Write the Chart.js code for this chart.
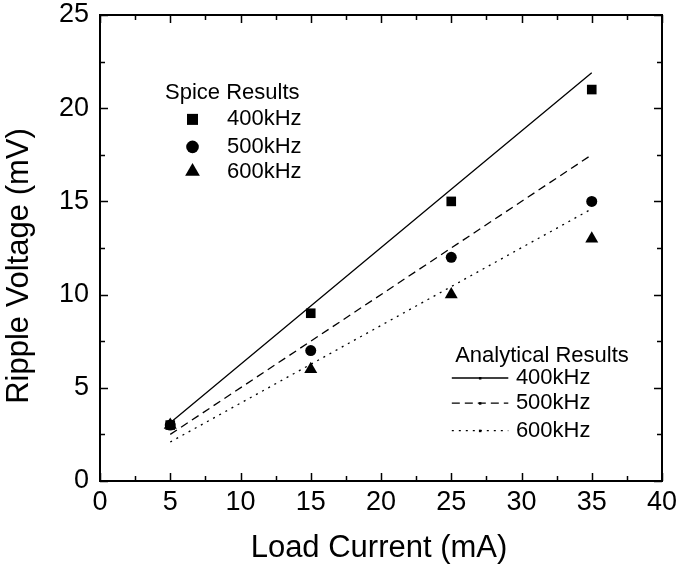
<!DOCTYPE html>
<html>
<head>
<meta charset="utf-8">
<script src="https://cdn.jsdelivr.net/npm/chart.js@4/dist/chart.umd.min.js"></script>
<style>
  body { margin: 0; background: #fff; }
  #wrap { width: 677px; height: 572px; }
</style>
</head>
<body>
<div id="wrap"><canvas id="c"></canvas></div>
<script>
// values
const loadCurrent = [5, 15, 25, 35];
const spice400 = [3, 9, 15, 21];
const spice500 = [3, 7, 12, 15];
const spice600 = [3, 6, 10, 13];
const analytic400 = [3.13, 9.39, 15.65, 21.9];
const analytic500 = [2.5, 7.5, 12.5, 17.5];
const analytic600 = [2.09, 6.26, 10.43, 14.6];
const freqLabels = ['400kHz', '500kHz', '600kHz'];
const xTicks = [0, 5, 10, 15, 20, 25, 30, 35, 40];
const yTicks = [0, 5, 10, 15, 20, 25];
const xTitle = 'Load Current (mA)';
const yTitle = 'Ripple Voltage (mV)';

const FONT = '"Liberation Sans", Arial, sans-serif';

function pts(ys) {
  return loadCurrent.map((x, i) => ({ x: x, y: ys[i] }));
}

function lineSet(label, ys, dash) {
  return {
    label: label, data: pts(ys), showLine: true, borderColor: '#000',
    borderWidth: 1.3, borderDash: dash, pointRadius: 0, fill: false, order: 2
  };
}

function markSet(label, ys, style, r) {
  return {
    label: label, data: pts(ys), showLine: false, pointStyle: style,
    pointRadius: r, pointHoverRadius: r, backgroundColor: '#000',
    borderColor: '#000', borderWidth: 0, order: 1
  };
}

function drawMark(ctx, style, x, y, r) {
  ctx.beginPath();
  if (style === 'rect') {
    const s = r * Math.SQRT1_2;
    ctx.rect(x - s, y - s, 2 * s, 2 * s);
  } else if (style === 'circle') {
    ctx.arc(x, y, r, 0, Math.PI * 2);
  } else {
    ctx.moveTo(x, y - r);
    ctx.lineTo(x + r * 0.866, y + r * 0.5);
    ctx.lineTo(x - r * 0.866, y + r * 0.5);
    ctx.closePath();
  }
  ctx.fill();
}

// frame with inward ticks on all four sides, plus the axis titles
const framePlugin = {
  id: 'frame',
  afterDatasetsDraw(chart) {
    const ctx = chart.ctx, a = chart.chartArea;
    const xs = chart.scales.x, ys = chart.scales.y;
    ctx.save();
    ctx.strokeStyle = '#000';
    ctx.lineWidth = 2;
    ctx.strokeRect(a.left, a.top, a.right - a.left, a.bottom - a.top);
    ctx.lineWidth = 1.5;
    ctx.beginPath();
    for (let v = 0; v <= 40; v += 2.5) {
      const len = v % 5 === 0 ? 8 : 5;
      const px = Math.round(xs.getPixelForValue(v)) + 0.5;
      ctx.moveTo(px, a.bottom); ctx.lineTo(px, a.bottom - len);
      ctx.moveTo(px, a.top); ctx.lineTo(px, a.top + len);
    }
    for (let v = 0; v <= 25; v += 2.5) {
      const len = v % 5 === 0 ? 8 : 5;
      const py = Math.round(ys.getPixelForValue(v)) + 0.5;
      ctx.moveTo(a.left, py); ctx.lineTo(a.left + len, py);
      ctx.moveTo(a.right, py); ctx.lineTo(a.right - len, py);
    }
    ctx.stroke();

    ctx.fillStyle = '#000';
    ctx.font = '31px ' + FONT;
    ctx.textAlign = 'center';
    ctx.textBaseline = 'alphabetic';
    ctx.fillText(xTitle, (a.left + a.right) / 2 - 2, a.bottom + 76);
    ctx.translate(28, (a.top + a.bottom) / 2 + 18);
    ctx.rotate(-Math.PI / 2);
    ctx.fillText(yTitle, 0, 0);
    ctx.restore();
  }
};

// the two legends written inside the plot
const notePlugin = {
  id: 'notes',
  afterDatasetsDraw(chart) {
    const ctx = chart.ctx, a = chart.chartArea;
    const W = a.right - a.left, H = a.bottom - a.top;
    const fx = f => a.left + f * W, fy = f => a.top + f * H;
    ctx.save();
    ctx.fillStyle = '#000';
    ctx.strokeStyle = '#000';
    ctx.textBaseline = 'middle';
    ctx.textAlign = 'left';

    ctx.font = '22px ' + FONT;
    ctx.fillText('Spice Results', fx(0.1157), fy(0.168));
    const styles = ['rect', 'circle', 'triangle'];
    const radii = [7.8, 6.3, 8.5];
    const rowsS = [0.224, 0.283, 0.336];
    for (let i = 0; i < 3; i++) {
      drawMark(ctx, styles[i], fx(0.1646), fy(rowsS[i]), radii[i]);
      ctx.fillText(freqLabels[i], fx(0.226), fy(rowsS[i]));
    }

    ctx.fillText('Analytical Results', fx(0.632), fy(0.732));
    const dashes = [[], [8, 5], [2, 5]];
    const rowsA = [0.779, 0.833, 0.892];
    for (let i = 0; i < 3; i++) {
      const y = fy(rowsA[i]);
      ctx.lineWidth = 1.3;
      ctx.setLineDash(dashes[i]);
      ctx.beginPath();
      ctx.moveTo(fx(0.626), y); ctx.lineTo(fx(0.7265), y);
      ctx.stroke();
      ctx.setLineDash([]);
      ctx.fillRect(fx(0.676) - 1, y - 1, 2.5, 2.5);
      ctx.fillText(freqLabels[i], fx(0.740), y);
    }
    ctx.restore();
  }
};

new Chart(document.getElementById('c'), {
  type: 'scatter',
  data: {
    datasets: [
      lineSet('Analytical 400kHz', analytic400, []),
      lineSet('Analytical 500kHz', analytic500, [8, 5]),
      lineSet('Analytical 600kHz', analytic600, [2, 5]),
      markSet('Spice 400kHz', spice400, 'rect', 6.8),
      markSet('Spice 500kHz', spice500, 'circle', 5.5),
      markSet('Spice 600kHz', spice600, 'triangle', 7.5)
    ]
  },
  options: {
    responsive: true,
    maintainAspectRatio: false,
    animation: false,
    layout: { padding: { top: 15, right: 15, left: 0, bottom: 0 } },
    plugins: { legend: { display: false }, tooltip: { enabled: false } },
    scales: {
      x: {
        type: 'linear', min: 0, max: 40,
        afterBuildTicks: s => { s.ticks = xTicks.map(v => ({ value: v })); },
        afterFit: s => { s.height = 91; s.paddingLeft = 0; s.paddingRight = 0; },
        grid: { display: false, drawTicks: false },
        border: { display: false },
        ticks: { color: '#000', padding: 5, font: { family: FONT, size: 27 } },
        title: { display: false, text: xTitle }
      },
      y: {
        type: 'linear', min: 0, max: 25,
        afterBuildTicks: s => { s.ticks = yTicks.map(v => ({ value: v })); },
        afterFit: s => { s.width = 100; s.paddingTop = 0; s.paddingBottom = 0; },
        grid: { display: false, drawTicks: false },
        border: { display: false },
        ticks: { color: '#000', padding: 11, font: { family: FONT, size: 27 } },
        title: { display: false, text: yTitle }
      }
    }
  },
  plugins: [framePlugin, notePlugin]
});
</script>
</body>
</html>
